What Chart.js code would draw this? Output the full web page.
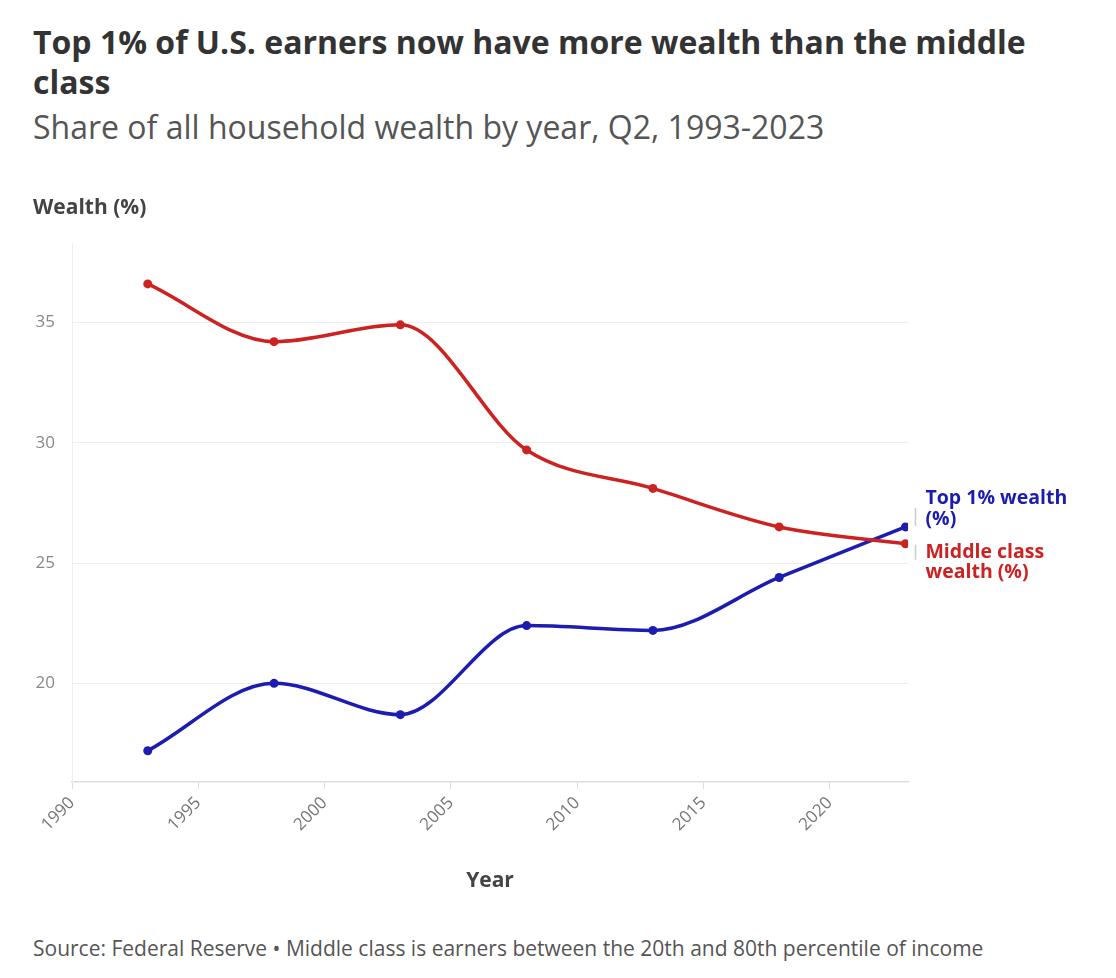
<!DOCTYPE html>
<html>
<head>
<meta charset="utf-8">
<script src="https://cdn.jsdelivr.net/npm/chart.js@4.4.1/dist/chart.umd.min.js"></script>
<style>
    html, body { margin: 0; padding: 0; background: #fff; }
    body { width: 1116px; height: 978px; position: relative; overflow: hidden; font-family: 'Open Sans', sans-serif; }
    .title { position: absolute; left: 33px; top: 22px; width: 1010px; font-size: 32px; font-weight: 700; color: #333; line-height: 40px; }
    .subtitle { position: absolute; left: 33px; top: 107px; font-size: 32px; line-height: 40px; color: #555; }
    .source { position: absolute; left: 33px; top: 933px; font-size: 21px; line-height: 30px; color: #555; white-space: nowrap; }
    #wrap { position: absolute; left: 0; top: 180px; width: 1116px; height: 740px; }
</style>
</head>
<body>
<div class="title">Top 1% of U.S. earners now have more wealth than the middle class</div>
<div class="subtitle">Share of all household wealth by year, Q2, 1993-2023</div>
<div id="wrap"><canvas id="chart"></canvas></div>
<div class="source">Source: Federal Reserve • Middle class is earners between the 20th and 80th percentile of income</div>

<script>
const years = [1993, 1998, 2003, 2008, 2013, 2018, 2023];
const topOne = [17.2, 20.0, 18.7, 22.4, 22.2, 24.4, 26.5];
const middleClass = [36.6, 34.2, 34.9, 29.7, 28.1, 26.5, 25.8];
const yTicks = [20, 25, 30, 35];
const xTicks = [1990, 1995, 2000, 2005, 2010, 2015, 2020];

const BLUE = '#1c1cb0';
const RED = '#cc2222';
const FONT = "'Open Sans', sans-serif";

// axis titles and end-of-line labels
const annotations = {
    id: 'annotations',
    afterDraw(chart) {
        const { ctx, chartArea } = chart;
        ctx.save();
        ctx.textBaseline = 'middle';
        ctx.fillStyle = '#444';
        ctx.font = `bold 21px ${FONT}`;
        ctx.textAlign = 'left';
        ctx.fillText('Wealth (%)', 33, 28);
        ctx.font = `bold 21px ${FONT}`;
        ctx.textAlign = 'center';
        ctx.fillText('Year', (chartArea.left + chartArea.right) / 2, 701);

        const x = chart.scales.x;
        const y = chart.scales.y;
        const last = years.length - 1;
        const px = x.getPixelForValue(years[last]) + 20;
        const yTop = y.getPixelForValue(topOne[last]);
        const yMid = y.getPixelForValue(middleClass[last]);

        ctx.strokeStyle = '#ccc';
        ctx.lineWidth = 1.5;
        ctx.beginPath();
        ctx.moveTo(px - 10, yTop - 19); ctx.lineTo(px - 10, yTop - 1);
        ctx.moveTo(px - 10, yMid + 1); ctx.lineTo(px - 10, yMid + 16);
        ctx.stroke();

        ctx.textAlign = 'left';
        ctx.font = `bold 19.5px ${FONT}`;
        ctx.fillStyle = BLUE;
        ctx.fillText('Top 1% wealth', px, yTop - 29);
        ctx.fillText('(%)', px, yTop - 8);
        ctx.fillStyle = RED;
        ctx.fillText('Middle class', px, yMid + 9);
        ctx.fillText('wealth (%)', px, yMid + 29);
        ctx.restore();
    }
};

const toPoints = vals => years.map((yr, i) => ({ x: yr, y: vals[i] }));

new Chart(document.getElementById('chart'), {
    type: 'line',
    data: {
        datasets: [{
            label: 'Middle class wealth (%)',
            data: toPoints(middleClass),
            borderColor: RED,
            backgroundColor: RED,
            borderWidth: 3.5,
            pointRadius: 4.5,
            pointBorderWidth: 0,
            cubicInterpolationMode: 'monotone'
        }, {
            label: 'Top 1% wealth (%)',
            data: toPoints(topOne),
            borderColor: BLUE,
            backgroundColor: BLUE,
            borderWidth: 3.5,
            pointRadius: 4.5,
            pointBorderWidth: 0,
            cubicInterpolationMode: 'monotone'
        }]
    },
    options: {
        responsive: true,
        maintainAspectRatio: false,
        animation: false,
        layout: { padding: { top: 63, right: 208, left: 0, bottom: 0 } },
        plugins: {
            legend: { display: false },
            tooltip: { enabled: false }
        },
        scales: {
            x: {
                type: 'linear',
                min: 1990,
                max: 2023.1,
                afterBuildTicks: scale => { scale.ticks = xTicks.map(v => ({ value: v })); },
                afterFit: scale => { scale.height = 138; },
                grid: {
                    drawOnChartArea: false,
                    drawTicks: true,
                    tickLength: 7,
                    color: '#ddd'
                },
                border: { color: '#ddd', width: 1.5 },
                ticks: {
                    minRotation: 45,
                    maxRotation: 45,
                    padding: 4,
                    color: '#777',
                    font: { family: FONT, size: 17 },
                    callback: v => String(v)
                }
            },
            y: {
                min: 15.9,
                max: 38.3,
                afterBuildTicks: scale => { scale.ticks = yTicks.map(v => ({ value: v })); },
                afterFit: scale => { scale.width = 72; },
                grid: {
                    color: '#eee',
                    drawTicks: false
                },
                border: { color: '#eee', width: 1 },
                ticks: {
                    padding: 17,
                    color: '#888',
                    font: { family: FONT, size: 17 }
                }
            }
        }
    },
    plugins: [annotations]
});
</script>
</body>
</html>
